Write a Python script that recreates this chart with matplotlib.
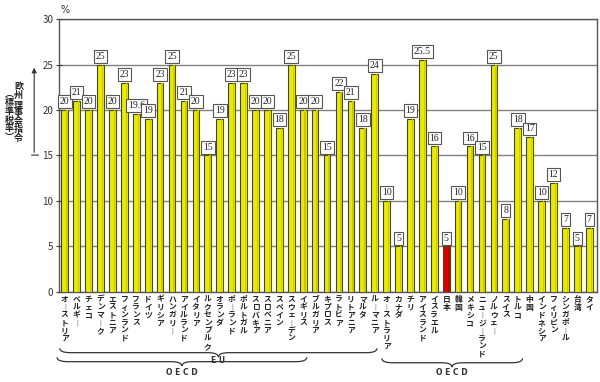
import numpy as np
import matplotlib
matplotlib.use('Agg')
import matplotlib.pyplot as plt
from matplotlib.path import Path
from matplotlib.patches import PathPatch
from matplotlib.transforms import blended_transform_factory

plt.rcParams['font.family'] = ['Noto Sans CJK JP', 'DejaVu Sans']

# ===== DANE =====
countries = ['オーストリア', 'ベルギー', 'チェコ', 'デンマーク', 'エストニア', 'フィンランド',
             'フランス', 'ドイツ', 'ギリシア', 'ハンガリー', 'アイルランド', 'イタリア',
             'ルクセンブルク', 'オランダ', 'ポーランド', 'ポルトガル', 'スロバキア', 'スロベニア',
             'スペイン', 'スウェーデン', 'イギリス', 'ブルガリア', 'キプロス', 'ラトビア',
             'リトアニア', 'マルタ', 'ルーマニア',
             'オーストラリア', 'カナダ', 'チリ', 'アイスランド', 'イスラエル', '日本', '韓国',
             'メキシコ', 'ニュージーランド', 'ノルウェー', 'スイス', 'トルコ',
             '中国', 'インドネシア', 'フィリピン', 'シンガポール', '台湾', 'タイ']
rates = [20, 21, 20, 25, 20, 23, 19.6, 19, 23, 25, 21, 20, 15, 19, 23, 23, 20, 20, 18, 25,
         20, 20, 15, 22, 21, 18, 24,
         10, 5, 19, 25.5, 16, 5, 10, 16, 15, 25, 8, 18,
         17, 10, 12, 7, 5, 7]
# grupy: (pierwszy indeks, ostatni indeks, etykieta)
groups = [(0, 26, 'E U'), (0, 20, 'O E C D'), (27, 38, 'O E C D')]
highlight = '日本'


def vertical(s):
    return '\n'.join('︱' if ch == 'ー' else ch for ch in s)


def brace(ax, x0, x1, y, h, label, ly):
    tr = blended_transform_factory(ax.transData, ax.transAxes)
    xm = (x0 + x1) / 2
    d = 0.9
    verts = [(x0, y + h), (x0, y), (x0 + d, y),
             (xm - d, y), (xm, y), (xm, y - h),
             (xm, y), (xm + d, y),
             (x1 - d, y), (x1, y), (x1, y + h)]
    codes = [Path.MOVETO, Path.CURVE3, Path.CURVE3,
             Path.LINETO, Path.CURVE3, Path.CURVE3,
             Path.CURVE3, Path.CURVE3,
             Path.LINETO, Path.CURVE3, Path.CURVE3]
    ax.add_patch(PathPatch(Path(verts, codes), transform=tr, fill=False,
                           edgecolor='#333333', lw=0.9, clip_on=False))
    ax.text(xm, ly, label, transform=tr, ha='center', va='center',
            fontsize=5.5, fontweight='bold', color='#333333', family='DejaVu Sans')


# ===== WYKRES =====
fig = plt.figure(figsize=(6, 3.82), dpi=100)
ax = fig.add_axes([0.098, 0.236, 0.897, 0.714])

x = np.arange(len(countries))
colors = ['#dd0000' if c == highlight else '#eaea00' for c in countries]
shade = ['#b80000' if c == highlight else '#c9c900' for c in countries]
ax.bar(x, rates, width=0.56, color=colors, edgecolor='#4a4a00', linewidth=0.8, zorder=3)
# cien po prawej stronie slupka (efekt walca)
ax.bar(x + 0.17, rates, width=0.12, color=shade, linewidth=0, zorder=3.5)

for xi, v in zip(x, rates):
    ax.annotate(f'{v:g}', (xi, v), xytext=(0, 6), textcoords='offset points',
                ha='center', va='center', fontsize=7, family='Liberation Serif',
                color='#222222', zorder=5,
                bbox=dict(boxstyle='square,pad=0.2', fc='white', ec='#555555', lw=0.8))

ax.set_xlim(-0.5, len(countries) - 0.35)
ax.set_ylim(0, 30)
ax.set_yticks(range(0, 31, 5))
ax.tick_params(axis='y', labelsize=7, labelcolor='#333333', direction='inout',
               length=4, color='#333333', pad=2)
ax.set_xticks(x)
ax.set_xticklabels([vertical(c) for c in countries], fontsize=5.6, fontweight='bold',
                   linespacing=0.84, va='top', color='#222222')
ax.tick_params(axis='x', length=0, pad=2)
ax.grid(axis='y', color='#808080', lw=1, zorder=1)
ax.set_axisbelow(True)
for s in ax.spines.values():
    s.set_color('#555555')
    s.set_linewidth(1)

ax.text(0.011, 1.035, '%', transform=ax.transAxes, ha='center', va='center',
        fontsize=7, color='#333333', family='DejaVu Sans')

# opisy grup pod osia
brace(ax, groups[0][0] - 0.42, groups[0][1] + 0.2, -0.223, 0.016, groups[0][2], -0.25)
brace(ax, groups[1][0] - 0.65, groups[1][1] + 0.3, -0.256, 0.016, groups[1][2], -0.297)
brace(ax, groups[2][0] - 0.4, groups[2][1] + 0.4, -0.26, 0.016, groups[2][2], -0.297)

# strzalka i opis osi Y
ax.annotate('', xy=(0.057, 0.83), xytext=(0.057, 0.594), xycoords='figure fraction',
            textcoords='figure fraction',
            arrowprops=dict(arrowstyle='-|>', color='#333333', lw=0.8, mutation_scale=7))
ax.annotate('', xy=(0.048, 0.594), xytext=(0.069, 0.594), xycoords='figure fraction',
            textcoords='figure fraction', arrowprops=dict(arrowstyle='-', color='#333333', lw=0.8))
fig.text(0.031, 0.785, vertical('欧州理事会指令'), ha='center', va='top', fontsize=6.5,
         fontweight='bold', linespacing=0.95, color='#222222')
fig.text(0.016, 0.765, '\n'.join('︵標準税率︶'), ha='center', va='top', fontsize=6.5,
         fontweight='bold', linespacing=0.95, color='#222222')

plt.savefig('out.png', dpi=100)
